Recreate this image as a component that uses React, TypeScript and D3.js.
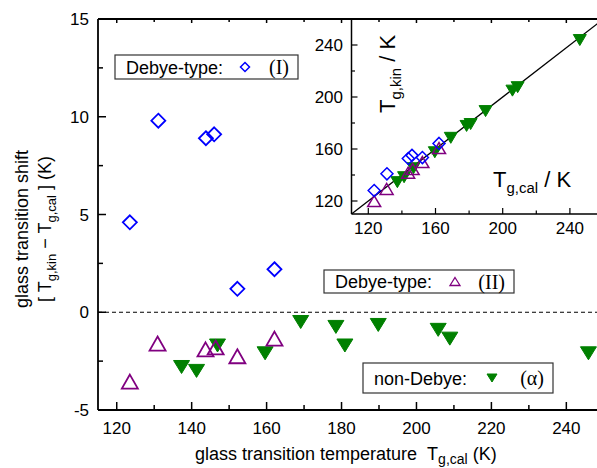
import React from 'react';
import * as d3 from 'd3';

// main panel data: T_g,cal (K) and shift T_g,kin - T_g,cal (K)
const debyeI_T = [123.5, 131.1, 143.8, 146.0, 152.2, 162.1];
const debyeI_shift = [4.6, 9.8, 8.9, 9.1, 1.2, 2.2];
const debyeII_T = [123.5, 130.9, 143.7, 146.4, 152.2, 162.1];
const debyeII_shift = [-3.55, -1.6, -1.9, -1.8, -2.25, -1.35];
const alpha_T = [137.3, 141.3, 146.9, 159.6, 169.1, 178.5, 180.9, 189.8, 205.8, 208.9, 245.9];
const alpha_shift = [-2.8, -3.0, -1.7, -2.1, -0.5, -0.75, -1.7, -0.65, -0.9, -1.35, -2.1];

const mainXTicks = [120, 140, 160, 180, 200, 220, 240];
const mainYTicks = [-5, 0, 5, 10, 15];
const insetTicks = [120, 160, 200, 240];

const FONT = '"Liberation Sans", Arial, sans-serif';
const SERIF = '"Liberation Serif", "Times New Roman", serif';
const BLUE = '#0000ff';
const PURPLE = '#800080';
const GREEN = '#008000';

const W = 597;
const H = 468;

const xMain = d3.scaleLinear().domain([115, 250]).range([98, 603.8]);
const yMain = d3.scaleLinear().domain([-5, 15]).range([410, 19]);
const xIn = d3.scaleLinear().domain([110, 260]).range([351.5, 603.5]);
const yIn = d3.scaleLinear().domain([110, 260]).range([214, 19]);

const diamond = (r: number) => `M0,${-r}L${r},0L0,${r}L${-r},0Z`;
const triUp = (w: number, h: number) => `M0,${-h / 2}L${w},${h / 2}L${-w},${h / 2}Z`;
const triDown = (w: number, h: number) => `M0,${h / 2}L${w},${-h / 2}L${-w},${-h / 2}Z`;

function Sub({ base, sub, rest, size }: { base: string; sub: string; rest?: string; size: number }) {
  return (
    <>
      <tspan>{base}</tspan>
      <tspan fontSize={size * 0.68} dy={size * 0.28}>{sub}</tspan>
      <tspan dy={-size * 0.28}>{rest ?? ''}</tspan>
    </>
  );
}

function Legend({ x, y, w, h, label, symbol, tag, symX }: any) {
  return (
    <g>
      <rect x={x} y={y} width={w} height={h} fill="white" stroke="#333" strokeWidth={1.2} />
      <text x={x + 11} y={y + h / 2 + 6.5} fontSize={18} fontFamily={FONT}>{label}</text>
      <g transform={`translate(${symX},${y + h / 2})`}>{symbol}</g>
      <text x={x + w - 9} y={y + h / 2 + 7} fontSize={20} fontFamily={SERIF} textAnchor="end">{tag}</text>
    </g>
  );
}

export default function App() {
  const minorX = d3.range(120, 251, 10);
  const minorY = d3.range(-5, 15.01, 2.5);
  const minorIn = d3.range(120, 260, 20);
  const insetI = debyeI_T.map((t, i) => [t, t + debyeI_shift[i]]);
  const insetII = debyeII_T.map((t, i) => [t, t + debyeII_shift[i]]);
  const insetA = alpha_T.map((t, i) => [t, t + alpha_shift[i]]);

  return (
    <svg width={W} height={H} style={{ position: 'absolute', left: 0, top: 0, background: 'white' }}>
      {/* zero line */}
      <line x1={xMain(115)} x2={W} y1={yMain(0)} y2={yMain(0)} stroke="#000" strokeWidth={1} strokeDasharray="4,3" />

      {/* inset */}
      <g>
        <line x1={xIn(110)} y1={yIn(110)} x2={xIn(260)} y2={yIn(260)} stroke="#000" strokeWidth={1.3} />
        {insetA.map(([a, b], i) => (
          <path key={'ia' + i} d={triDown(6.5, 11)} transform={`translate(${xIn(a)},${yIn(b)})`} fill={GREEN} stroke={GREEN} strokeWidth={1} />
        ))}
        {insetII.map(([a, b], i) => (
          <path key={'i2' + i} d={triUp(6.5, 11)} transform={`translate(${xIn(a)},${yIn(b)})`} fill="none" stroke={PURPLE} strokeWidth={1.5} />
        ))}
        {insetI.map(([a, b], i) => (
          <path key={'i1' + i} d={diamond(6)} transform={`translate(${xIn(a)},${yIn(b)})`} fill="none" stroke={BLUE} strokeWidth={1.5} />
        ))}
        <line x1={xIn(110)} x2={xIn(110)} y1={19} y2={yIn(110)} stroke="#000" strokeWidth={1.5} />
        <line x1={xIn(110)} x2={W} y1={yIn(110)} y2={yIn(110)} stroke="#000" strokeWidth={1.5} />
        {minorIn.map(t => (
          <g key={'it' + t}>
            <line x1={xIn(t)} x2={xIn(t)} y1={yIn(110)} y2={yIn(110) - (insetTicks.includes(t) ? 6 : 3.5)} stroke="#000" strokeWidth={1.2} />
            <line y1={yIn(t)} y2={yIn(t)} x1={xIn(110)} x2={xIn(110) + (insetTicks.includes(t) ? 6 : 3.5)} stroke="#000" strokeWidth={1.2} />
          </g>
        ))}
        {insetTicks.map(t => (
          <g key={'il' + t} fontFamily={FONT} fontSize={17}>
            <text x={xIn(t)} y={234} textAnchor="middle">{t}</text>
            <text x={343} y={yIn(t) + 6} textAnchor="end">{t}</text>
          </g>
        ))}
        <text transform="translate(395,113) rotate(-90)" fontFamily={FONT} fontSize={22}>
          <Sub base="T" sub="g,kin" rest=" / K" size={22} />
        </text>
        <text x={493} y={187} fontFamily={FONT} fontSize={22}>
          <Sub base="T" sub="g,cal" rest=" / K" size={22} />
        </text>
      </g>

      {/* main data */}
      {alpha_T.map((t, i) => (
        <path key={'a' + i} d={triDown(8, 13)} transform={`translate(${xMain(t)},${yMain(alpha_shift[i])})`} fill={GREEN} stroke={GREEN} strokeWidth={1} />
      ))}
      {debyeII_T.map((t, i) => (
        <path key={'b' + i} d={triUp(8, 14)} transform={`translate(${xMain(t)},${yMain(debyeII_shift[i])})`} fill="none" stroke={PURPLE} strokeWidth={1.8} />
      ))}
      {debyeI_T.map((t, i) => (
        <path key={'c' + i} d={diamond(7)} transform={`translate(${xMain(t)},${yMain(debyeI_shift[i])})`} fill="none" stroke={BLUE} strokeWidth={1.8} />
      ))}

      {/* main frame and ticks */}
      <line x1={98} x2={98} y1={19} y2={410} stroke="#000" strokeWidth={1.8} />
      <line x1={98} x2={W} y1={410} y2={410} stroke="#000" strokeWidth={1.8} />
      <line x1={98} x2={W} y1={19} y2={19} stroke="#000" strokeWidth={1.8} />
      {minorX.map(t => {
        const major = mainXTicks.includes(t);
        return (
          <g key={'mx' + t}>
            <line x1={xMain(t)} x2={xMain(t)} y1={410} y2={410 - (major ? 8 : 5)} stroke="#000" strokeWidth={1.5} />
            <line x1={xMain(t)} x2={xMain(t)} y1={19} y2={19 + (major ? 4 : 3)} stroke="#000" strokeWidth={1.5} />
          </g>
        );
      })}
      {minorY.map(t => {
        const major = mainYTicks.includes(t);
        return (
          <line key={'my' + t} x1={98} x2={98 + (major ? 8 : 5)} y1={yMain(t)} y2={yMain(t)} stroke="#000" strokeWidth={1.5} />
        );
      })}
      {mainXTicks.map(t => (
        <text key={'lx' + t} x={xMain(t)} y={434} textAnchor="middle" fontFamily={FONT} fontSize={17}>{t}</text>
      ))}
      {mainYTicks.map(t => (
        <text key={'ly' + t} x={89} y={yMain(t) + 6} textAnchor="end" fontFamily={FONT} fontSize={17}>{t}</text>
      ))}

      {/* axis titles */}
      <text x={195} y={460} fontFamily={FONT} fontSize={18}>
        <tspan>glass transition temperature</tspan>
        <tspan dx={10}>T</tspan>
        <tspan fontSize={14} dy={4}>g,cal</tspan>
        <tspan dy={-4}> (K)</tspan>
      </text>
      <text transform="translate(28,229) rotate(-90)" textAnchor="middle" fontFamily={FONT} fontSize={18}>glass transition shift</text>
      <text transform="translate(51,229) rotate(-90)" textAnchor="middle" fontFamily={FONT} fontSize={18}>
        <tspan>[ T</tspan>
        <tspan fontSize={13} dy={5}>g,kin</tspan>
        <tspan dy={-5}> − T</tspan>
        <tspan fontSize={13} dy={5}>g,cal</tspan>
        <tspan dy={-5}> ] (K)</tspan>
      </text>

      {/* legends */}
      <Legend x={115} y={55} w={183} h={24} label="Debye-type:" tag="(I)" symX={245}
        symbol={<path d={diamond(4.5)} fill="none" stroke={BLUE} strokeWidth={1.5} />} />
      <Legend x={324} y={270} w={190} h={23} label="Debye-type:" tag="(II)" symX={455}
        symbol={<path d={triUp(5, 8)} fill="none" stroke={PURPLE} strokeWidth={1.3} />} />
      <Legend x={363} y={363} w={190} h={30} label="non-Debye:" tag="(α)" symX={492}
        symbol={<path d={triDown(5, 8)} fill={GREEN} stroke={GREEN} strokeWidth={1} />} />
    </svg>
  );
}
